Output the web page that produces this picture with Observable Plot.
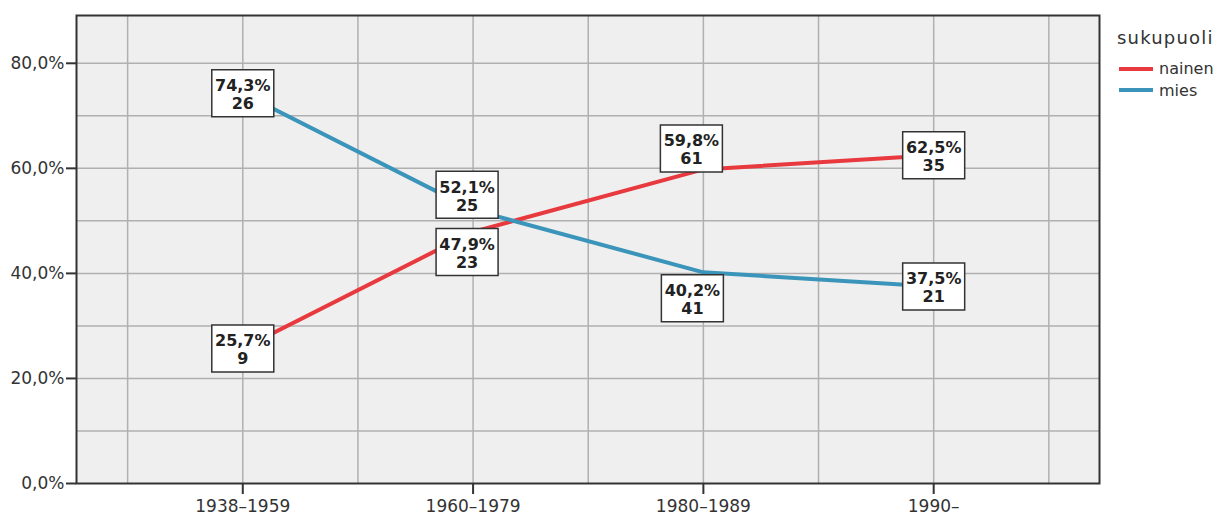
<!DOCTYPE html>
<html>
<head>
<meta charset="utf-8">
<script src="https://cdn.jsdelivr.net/npm/d3@7"></script>
<script src="https://cdn.jsdelivr.net/npm/@observablehq/plot@0.6"></script>
<style>
  body { margin: 0; background: white; }
  #wrap { position: relative; width: 1226px; height: 515px; }
  #legend { position: absolute; left: 1117px; top: 0; font-family: "DejaVu Sans", sans-serif; color: #333; }
  #legend .title { position: absolute; top: 27px; left: 0; font-size: 18px; letter-spacing: 1.2px; white-space: nowrap; }
  #legend .item { position: absolute; left: 2px; font-size: 16px; white-space: nowrap; display: flex; align-items: center; }
  #legend .sw { display: inline-block; width: 34px; height: 4px; margin-right: 6px; }
</style>
</head>
<body>
<div id="wrap"></div>
<script>
const categories = ["1938–1959", "1960–1979", "1980–1989", "1990–"];
const series = ["nainen", "mies"];
const nainenPct = [25.7, 47.9, 59.8, 62.5];
const nainenN = [9, 23, 61, 35];
const miesPct = [74.3, 52.1, 40.2, 37.5];
const miesN = [26, 25, 41, 21];
const yTicks = [0, 20, 40, 60, 80];

const colors = ["#e8393e", "#3b95ba"];

const data = [];
categories.forEach((c, i) => data.push({xi: i + 1, cat: c, sex: "nainen", pct: nainenPct[i], n: nainenN[i]}));
categories.forEach((c, i) => data.push({xi: i + 1, cat: c, sex: "mies", pct: miesPct[i], n: miesN[i]}));

// label box pixel offsets (placement only)
const offsets = {
  "nainen": [[0, 0], [-6, 20], [-12, -21], [0, 0]],
  "mies": [[0, 0], [-6, -15], [-11, 26], [0, 0]]
};

const fmt = v => v.toFixed(1).replace(".", ",") + "%";
const boxSymbol = { draw(ctx) { ctx.rect(-31, -23.5, 62, 47); } };

const labelMarks = [];
data.forEach(d => {
  const [dx, dy] = offsets[d.sex][d.xi - 1];
  labelMarks.push(Plot.dot([d], {x: "xi", y: "pct", symbol: boxSymbol, fill: "white", stroke: "#333", strokeWidth: 1.5, dx, dy}));
  labelMarks.push(Plot.text([d], {x: "xi", y: "pct", text: r => `${fmt(r.pct)}\n${r.n}`, fontWeight: "bold", fontSize: 16, lineHeight: 1.14, fill: "#222", dx, dy: dy + 1}));
});

const chart = Plot.plot({
  width: 1226,
  height: 515,
  marginLeft: 76,
  marginRight: 127,
  marginTop: 15,
  marginBottom: 32,
  style: {fontFamily: "DejaVu Sans", fontSize: "17px", color: "#333", background: "white"},
  x: {domain: [0.278, 4.72]},
  y: {domain: [0, 89.1]},
  color: {domain: series, range: colors},
  marks: [
    Plot.frame({fill: "#efefef"}),
    Plot.ruleY(d3.range(10, 89, 10), {stroke: "#b0b0b0", strokeWidth: 1.5}),
    Plot.ruleX(d3.range(0.5, 4.6, 0.5), {stroke: "#b0b0b0", strokeWidth: 1.5}),
    Plot.axisY({ticks: yTicks, tickFormat: fmt, tickSize: 10, tickPadding: 2, strokeWidth: 2, label: null}),
    Plot.axisX({ticks: [1, 2, 3, 4], tickFormat: i => categories[i - 1], tickSize: 11, tickPadding: 5, strokeWidth: 2, label: null}),
    Plot.line(data, {x: "xi", y: "pct", z: "sex", stroke: "sex", curve: "linear", strokeWidth: 4, strokeLinejoin: "round"}),
    ...labelMarks,
    Plot.frame({stroke: "#333", strokeWidth: 2})
  ]
});

const wrap = document.getElementById("wrap");
wrap.appendChild(chart);

const legend = document.createElement("div");
legend.id = "legend";
let html = `<div class="title">sukupuoli</div>`;
series.forEach((s, i) => {
  html += `<div class="item" style="top:${59 + i * 21.5}px"><span class="sw" style="background:${colors[i]}"></span>${s}</div>`;
});
legend.innerHTML = html;
wrap.appendChild(legend);
</script>
</body>
</html>
